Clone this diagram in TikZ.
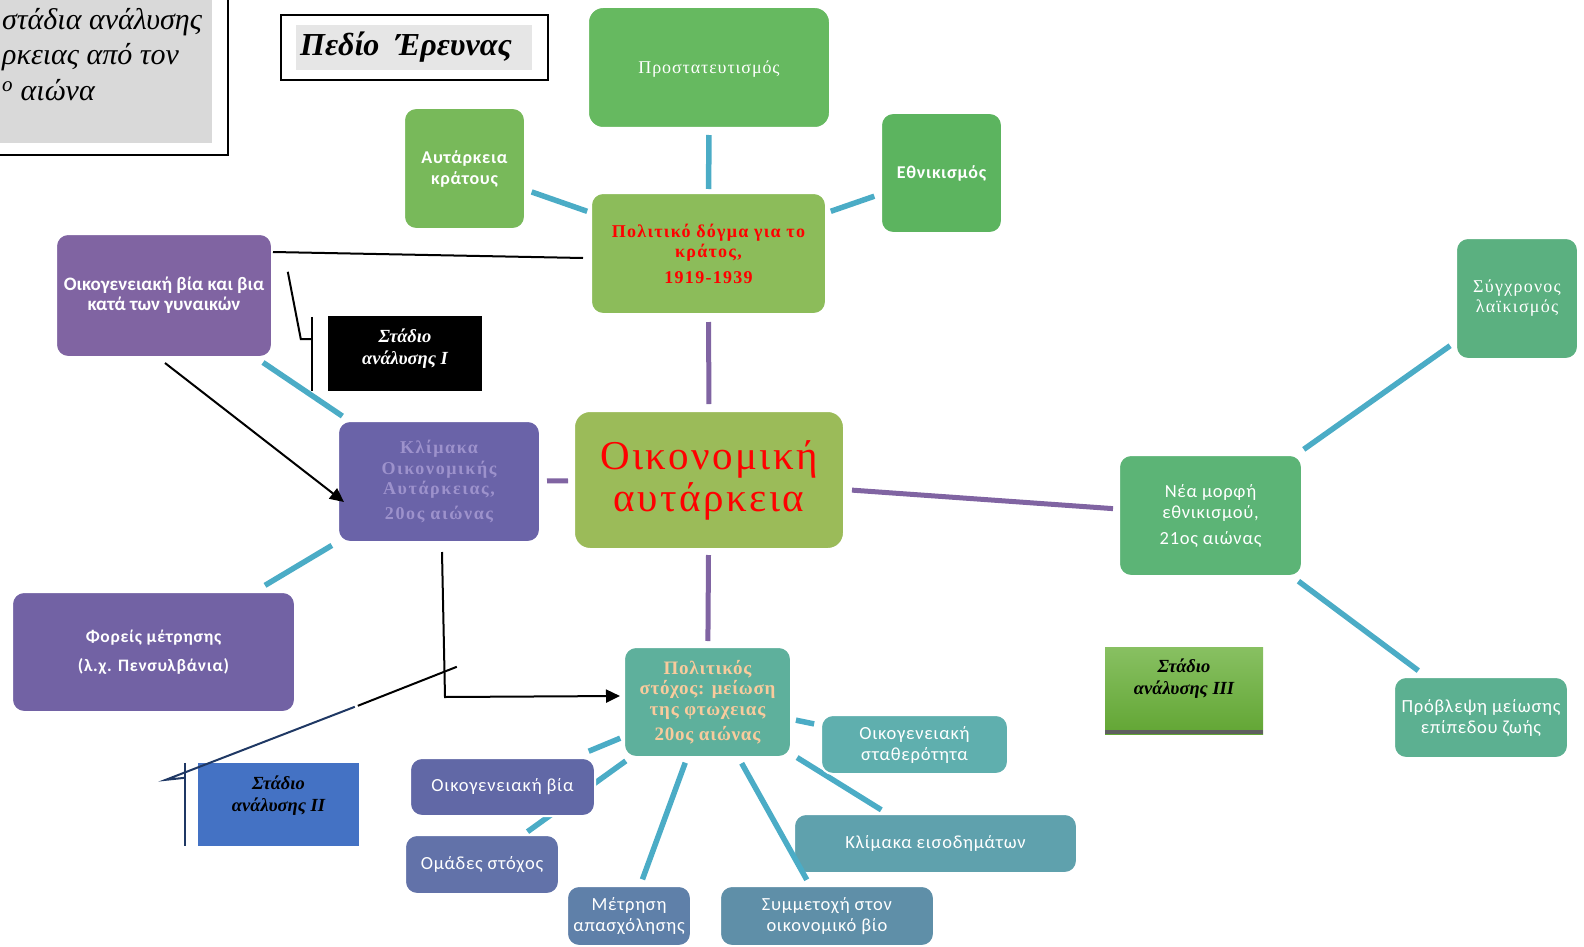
\documentclass[tikz,border=0pt]{standalone}
\usepackage{fontspec}
\setmainfont{Liberation Serif}
\newfontfamily\calf[LetterSpace=4]{Carlito}
\newfontfamily\calft{Carlito}
\usetikzlibrary{arrows.meta,calc}
\pgfdeclarelayer{bg}
\pgfsetlayers{bg,main}
\newcommand\myfs[2]{\fontsize{#1}{#2}\selectfont}
\definecolor{cProt}{HTML}{66B960}
\definecolor{cAutk}{HTML}{78B95A}
\definecolor{cEthn}{HTML}{5CB45F}
\definecolor{cDogma}{HTML}{8CBC5A}
\definecolor{cOikbia}{HTML}{8064A2}
\definecolor{cKlim}{HTML}{6A63A8}
\definecolor{cOik}{HTML}{9BBB59}
\definecolor{cNea}{HTML}{5CB476}
\definecolor{cSyg}{HTML}{5BB080}
\definecolor{cProvl}{HTML}{5CB091}
\definecolor{cForeis}{HTML}{7262A4}
\definecolor{cPol}{HTML}{5EB09C}
\definecolor{cStath}{HTML}{5FAFAE}
\definecolor{cOikbiaB}{HTML}{6168A6}
\definecolor{cOmades}{HTML}{6272A9}
\definecolor{cMetr}{HTML}{5F80A9}
\definecolor{cSymm}{HTML}{5F8FA8}
\definecolor{cKlimeis}{HTML}{5FA1AD}
\definecolor{cStageII}{HTML}{4472C4}
\definecolor{cCyan}{HTML}{4BACC6}
\definecolor{cPurp}{HTML}{8064A2}
\definecolor{cKlimTxt}{HTML}{9D92CC}
\definecolor{cPeach}{HTML}{F9CB9C}
\definecolor{cNavy}{HTML}{1F3864}
\definecolor{cGrayA}{HTML}{D9D9D9}
\definecolor{cGrayB}{HTML}{E6E6E6}
\definecolor{cGtop}{HTML}{88C062}
\definecolor{cGbot}{HTML}{62A634}
\definecolor{cStrip}{HTML}{5F5F5F}
\tikzset{
  bx/.style={rounded corners=12pt, inner sep=0pt, align=center, text=white, draw=white, line width=2pt},
  stg/.style={inner sep=0pt, draw=none},
  stgt/.style={inner sep=0pt, align=center, font=\rmfamily\bfseries\itshape\myfs{18.5}{22}},
  cal/.style={font=\calf\myfs{18.5}{21}},
  cyl/.style={draw=cCyan, line width=5.5pt},
  pul/.style={draw=cPurp, line width=5pt},
  bkl/.style={draw=black, line width=2pt},
  nvl/.style={draw=cNavy, line width=2pt},
  tl/.style={anchor=base west, inner sep=0pt, font=\itshape\myfs{30}{34}},
  arr/.style={-{Triangle[length=14pt,width=13pt]}}
}
\begin{document}
\begin{tikzpicture}[x=1pt,y=-1pt]
\useasboundingbox (0,0) rectangle (1584,947);
\clip (0,0) rectangle (1584,947);
% top-left frame
\fill[cGrayA] (-5,-5) rectangle (212,143);
\draw[line width=1.3pt] (-5,-5) rectangle (228,155);
\node[tl] (tla) at (2,30) {στάδια ανάλυσης};
\node[tl] (tlb) at (2,65) {ρκειας από τον};
\node[tl] (tlc) at (2,101) {\textsuperscript{ο}\ αιώνα};
% Pedio
\draw[line width=1.3pt] (281,15) rectangle (548,80);
\fill[cGrayB] (296,25) rectangle (532,70);
\node[anchor=base west, inner sep=0pt, font=\bfseries\itshape\myfs{32}{34}] (pedio) at (300,56) {Πεδίο\ \ Έρευνας};
% nodes
\node[bx, fill=cProt, rounded corners=15pt, minimum width=242pt, minimum height=121pt, text depth=0pt, font=\rmfamily\addfontfeature{LetterSpace=5}\myfs{18}{22}] (prot) at (709,67.5) {Προστατευτισμός};
\node[bx, fill=cAutk, minimum width=121pt, minimum height=121pt, font=\calf\bfseries\myfs{18}{21}] (autk) at (464.5,168.5) {Αυτάρκεια\\κράτους};
\node[bx, fill=cEthn, minimum width=121pt, minimum height=120pt, font=\calf\bfseries\myfs{18}{21}] (ethn) at (941.5,173) {Εθνικισμός};
\node[bx, fill=cDogma, text=red, minimum width=235pt, minimum height=121pt, font=\rmfamily\bfseries\addfontfeature{LetterSpace=7}\myfs{18}{20}] (dogma) at (708.5,253.5) {Πολιτικό δόγμα για το\\κράτος,\\[6pt]1919-1939};
\node[bx, fill=cOikbia, minimum width=216pt, minimum height=123pt, font=\calft\bfseries\myfs{19}{20}] (oikbia) at (164,295.5) {Οικογενειακή βία και βια\\κατά των γυναικών};
\node[stg, fill=black, minimum width=154pt, minimum height=75pt] (stage1) at (405,353.5) {};
\node[stgt, text=white] (stage1t) at (405,349) {Στάδιο\\ανάλυσης I};
\node[bx, fill=cKlim, text=cKlimTxt, minimum width=202pt, minimum height=121pt, font=\rmfamily\bfseries\addfontfeature{LetterSpace=9}\myfs{18}{20.5}] (klimaka) at (439,481.5) {Κλίμακα\\Οικονομικής\\Αυτάρκειας,\\[4pt]20ος αιώνας};
\node[bx, fill=cOik, text=red, rounded corners=16pt, minimum width=270pt, minimum height=138pt, font=\rmfamily\addfontfeature{LetterSpace=6}\myfs{41}{42}] (oik) at (709,480) {Οικονομική\\αυτάρκεια};
\node[bx, fill=cNea, minimum width=183pt, minimum height=121pt, cal] (nea) at (1210.5,515.5) {Νέα μορφή\\εθνικισμού,\\[5pt]21ος αιώνας};
\node[bx, fill=cSyg, minimum width=122pt, minimum height=121pt, font=\rmfamily\addfontfeature{LetterSpace=7}\myfs{18}{20}] (syg) at (1517,298.5) {Σύγχρονος\\λαϊκισμός};
\node[bx, fill=cProvl, minimum width=174pt, minimum height=81pt, cal] (provl) at (1481,717.5) {Πρόβλεψη μείωσης\\επίπεδου ζωής};
\node[stg, top color=cGtop, bottom color=cGbot, minimum width=158pt, minimum height=87pt] (stage3) at (1184,690.5) {};
\fill[cStrip] ($(stage3.south west)+(0,-4)$) rectangle (stage3.south east);
\node[stgt, text=black] (stage3t) at (1184,679) {Στάδιο\\ανάλυσης III};
\node[bx, fill=cForeis, minimum width=283pt, minimum height=120pt, font=\calf\bfseries\myfs{17.5}{29}] (foreis) at (153.5,652) {Φορείς μέτρησης\\(λ.χ. Πενσυλβάνια)};
\node[bx, fill=cPol, text=cPeach, minimum width=167pt, minimum height=110pt, font=\rmfamily\bfseries\addfontfeature{LetterSpace=4}\myfs{19}{20.5}] (polstox) at (707.5,702) {Πολιτικός\\στόχος: μείωση\\της φτωχειας\\[5pt]20ος αιώνας};
\node[bx, fill=cStath, minimum width=187pt, minimum height=59pt, cal] (stath) at (914.5,744.5) {Οικογενειακή\\σταθερότητα};
\node[bx, fill=cOikbiaB, minimum width=185pt, minimum height=58pt, cal] (oikbiab) at (502.5,787) {Οικογενειακή βία};
\node[bx, fill=cOmades, minimum width=154pt, minimum height=59pt, cal] (omades) at (482,864.5) {Ομάδες στόχος};
\node[bx, fill=cMetr, minimum width=124pt, minimum height=60pt, cal] (metr) at (629,916) {Μέτρηση\\απασχόλησης};
\node[bx, fill=cSymm, minimum width=214pt, minimum height=60pt, cal] (symm) at (827,916) {Συμμετοχή στον\\οικονομικό βίο};
\node[bx, fill=cKlimeis, minimum width=283pt, minimum height=59pt, cal] (klimeis) at (935.5,843.5) {Κλίμακα εισοδημάτων};
\node[stg, fill=cStageII, minimum width=161pt, minimum height=83pt] (stage2) at (278.5,804.5) {};
\node[stgt, text=black] (stage2t) at (278.5,796) {Στάδιο\\ανάλυσης II};
% connectors behind boxes
\begin{pgfonlayer}{bg}
\draw[cyl, shorten <=6pt, shorten >=3pt] (prot) -- (dogma);
\draw[cyl, shorten <=6pt, shorten >=3pt] (autk) -- (dogma);
\draw[cyl, shorten <=6pt, shorten >=4pt] (ethn) -- (dogma);
\draw[cyl, shorten <=8pt, shorten >=7pt] (oikbia) -- (klimaka);
\draw[cyl, shorten <=6pt, shorten >=11pt] (klimaka) -- (foreis);
\draw[cyl, shorten <=8pt, shorten >=6pt] (nea) -- (syg);
\draw[cyl, shorten <=7pt, shorten >=9pt] (nea) -- (provl);
\draw[cyl, shorten <=4pt, shorten >=6pt] (polstox) -- (stath);
\draw[cyl, shorten <=6pt, shorten >=6pt] (polstox) -- (klimeis);
\draw[cyl, shorten <=5pt, shorten >=6pt] (polstox) -- (metr);
\draw[cyl, shorten <=3pt, shorten >=15pt] (polstox) -- (oikbiab);
\draw[cyl, shorten <=5pt, shorten >=4pt] (polstox) -- (omades);
\draw[pul, shorten <=7pt, shorten >=6pt] (dogma) -- (oik);
\draw[pul, shorten <=5pt, shorten >=6pt] (oik) -- (klimaka);
\draw[pul, shorten <=7pt, shorten >=5pt] (oik) -- (nea);
\draw[pul, shorten <=5pt, shorten >=5pt] (oik) -- (polstox);
\end{pgfonlayer}
\draw[cyl, shorten <=6pt, shorten >=6pt] (polstox) -- (symm);
% black lines and arrows
\draw[bkl] ($(oikbia.north east)+(0,19)$) -- ($(dogma.west)+(-7,4.5)$);
\draw[bkl, arr] ($(oikbia.south)+(1,5)$) -- ($(klimaka.west)+(7,20.5)$);
\draw[bkl, arr] ($(klimaka.south)+(3,9)$) -- ($(klimaka.south)+(6,154)$) -- ($(polstox.west)+(-3,-6)$);
% stage I bracket
\coordinate (bA) at ($(stage1.north west)+(-40,-44)$);
\draw[bkl] (bA) -- ($(stage1.west)+(-27,-14.5)$) -- ($(stage1.west)+(-16,-14.5)$);
\draw[bkl] ($(stage1.north west)+(-16,1)$) -- ($(stage1.south west)+(-16,0)$);
% stage II bracket
\coordinate (bB) at ($(stage2.north west)+(259,-96)$);
\draw[nvl] ($(stage2.north west)+(-13,0)$) -- ($(stage2.south west)+(-13,0)$);
\draw[nvl] ($(stage2.north west)+(-13,15)$) -- ($(stage2.north west)+(-32,17)$) -- ($(stage2.north west)+(157,-56)$);
\draw[bkl] ($(stage2.north west)+(160,-57)$) -- (bB);
\end{tikzpicture}
\end{document}
